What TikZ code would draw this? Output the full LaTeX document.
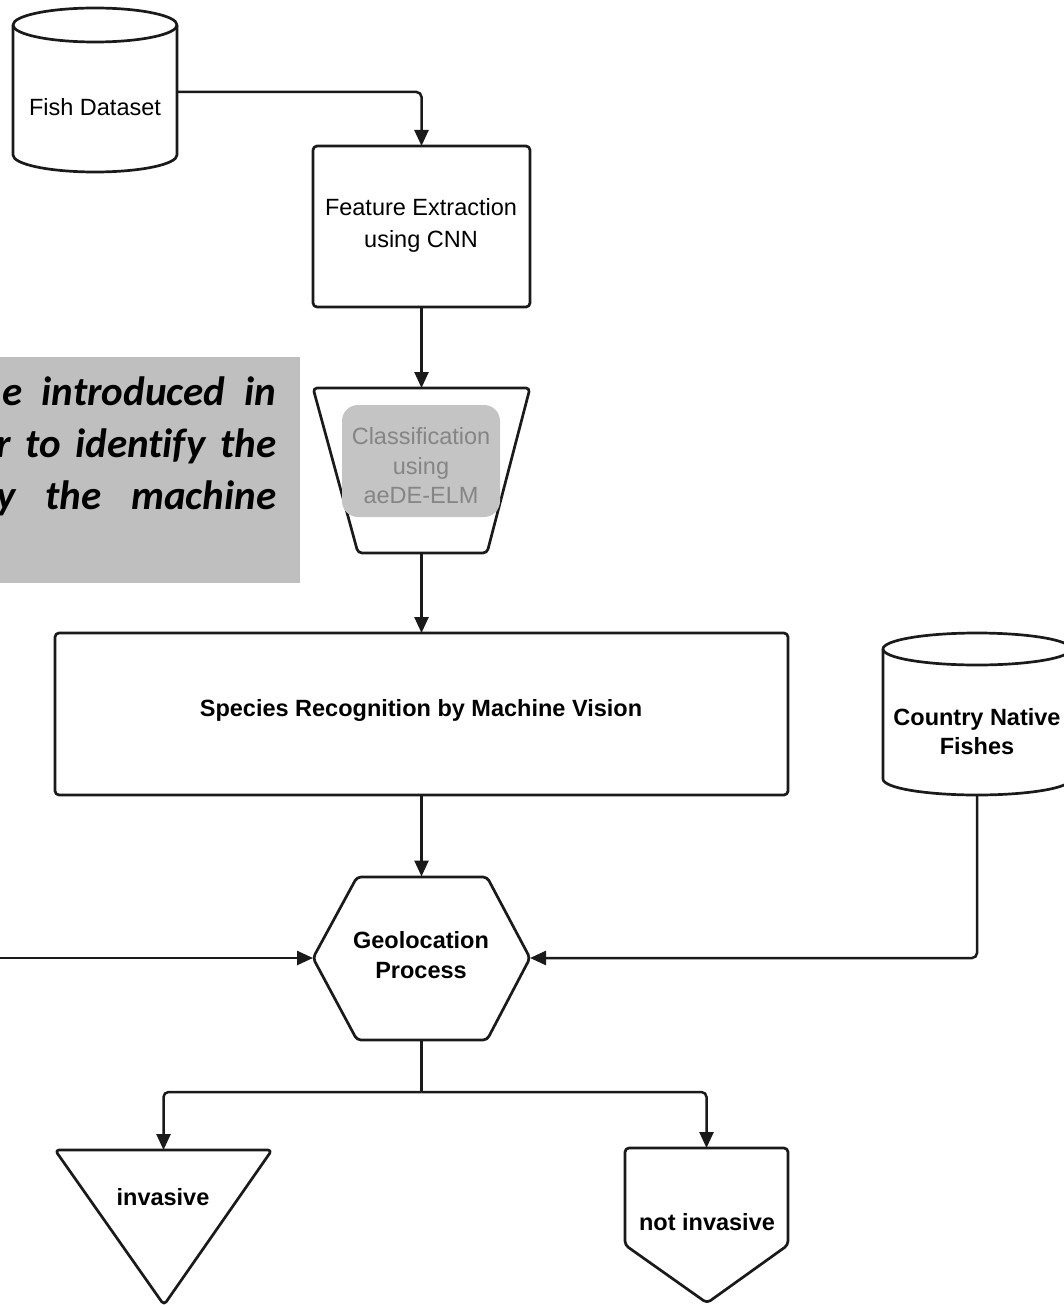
\documentclass[tikz,border=0pt]{standalone}
\usepackage{fontspec}
\setmainfont{Liberation Sans}
\newfontfamily\calib[Ligatures=CommonOff]{Carlito}
\usetikzlibrary{arrows.meta}
\definecolor{ink}{HTML}{1A1A1A}
\definecolor{panel}{HTML}{BFBFBF}
\definecolor{clsfill}{HTML}{C4C4C4}
\definecolor{clstext}{HTML}{858585}
\begin{document}
\begin{tikzpicture}[x=1pt,y=-1pt,
  outline/.style={draw=ink, line width=2.7pt, line join=round, rounded corners=4pt},
  conn/.style={draw=ink, line width=2.5pt, rounded corners=5pt},
  arr/.style={conn, -{Triangle[length=16pt,width=14pt]}},
  frame/.style={draw=none, inner sep=0pt, outer sep=0pt},
  lbl/.style={inner sep=0pt, align=center, font=\fontsize{23.5}{30}\selectfont},
  blbl/.style={inner sep=0pt, align=center, font=\fontsize{23.5}{30}\selectfont\bfseries},
  ptxt/.style={inner sep=0pt, anchor=base west, font=\calib\bfseries\itshape\fontsize{41}{52}\selectfont},
]
\clip (0,0) rectangle (1064,1305);

% ---- grey text panel (cut off at the left) ----
\fill[panel] (0,357) rectangle (300,583);
\node[ptxt] (pl1) at (2,405) {\makebox[274pt][s]{e introduced in}};
\node[ptxt] (pl2) at (-4,457) {\makebox[280pt][s]{r to ident\kern0pt ify the}};
\node[ptxt] (pl3) at (-4,509) {\makebox[280pt][s]{y the machine}};

% ---- frames used by the connectors ----
\node[frame, minimum width=164pt, minimum height=164pt] (fish) at (95,90) {};
\node[frame, minimum width=217pt, minimum height=161pt] (feat) at (421.5,226.5) {};
\node[frame, minimum width=217pt, minimum height=165pt] (cls) at (421.5,470.5) {};
\node[frame, minimum width=733pt, minimum height=162pt] (spec) at (421.5,714) {};
\node[frame, minimum width=188pt, minimum height=162pt] (country) at (977,714) {};
\node[frame, minimum width=217pt, minimum height=163pt] (geo) at (421.5,958) {};
\node[frame, minimum width=217pt, minimum height=155pt] (inv) at (163.5,1227.5) {};
\node[frame, minimum width=163pt, minimum height=155pt] (nin) at (706.5,1225.5) {};
\coordinate (leftin) at (0,958);
\coordinate (br) at (421.5,1092);

% ---- shapes ----
% Fish Dataset cylinder
\draw[outline, rounded corners=0pt] (95,25) ellipse [x radius=82pt, y radius=17pt];
\draw[outline, rounded corners=0pt] (13,25) -- (13,155) arc[start angle=180, end angle=360, x radius=82pt, y radius=17pt] -- (177,25);
% Feature extraction box
\draw[outline] (313,146) rectangle (530,307);
% Classification trapezoid
\draw[outline] (313,388) -- (530,388) -- (487,553) -- (358,553) -- cycle;
\fill[clsfill, rounded corners=16pt] (342,405) rectangle (500,517);
% Species box
\draw[outline] (55,633) rectangle (788,795);
% Country Native Fishes cylinder
\draw[outline, rounded corners=0pt] (977,649) ellipse [x radius=94pt, y radius=16pt];
\draw[outline, rounded corners=0pt] (883,649) -- (883,779) arc[start angle=180, end angle=360, x radius=94pt, y radius=16pt] -- (1071,649);
% Geolocation hexagon
\draw[outline] (313,958) -- (357,877) -- (487,877) -- (530,958) -- (487,1040) -- (357,1040) -- cycle;
% invasive triangle
\draw[outline] (55,1150) -- (272,1150) -- (164,1305) -- cycle;
% not invasive pentagon
\draw[outline] (625,1148) -- (788,1148) -- (788,1245) -- (707,1303) -- (625,1245) -- cycle;

% ---- texts ----
\node[lbl] (fishtxt) at (95,107) {Fish Dataset};
\node[lbl, font=\fontsize{23.5}{32}\selectfont] (feattxt) at (421,225) {Feature Extraction\\using CNN};
\node[lbl, text=clstext, font=\fontsize{23.5}{29.5}\selectfont] (clstxt) at (421,466) {Classification\\using\\aeDE-ELM};
\node[blbl] (spectxt) at (421,710) {Species Recognition by Machine Vision};
\node[blbl, font=\fontsize{23.5}{29}\selectfont\bfseries] (countrytxt) at (977,732) {Country Native\\Fishes};
\node[blbl] (geotxt) at (421,955) {Geolocation\\Process};
\node[blbl] (invtxt) at (163,1197) {invasive};
\node[blbl] (nintxt) at (707,1222) {not invasive};

% ---- connectors ----
\draw[arr] ([yshift=-2pt]fish.east) -| (feat.north);
\draw[arr] (feat.south) -- (cls.north);
\draw[arr] (cls.south) -- (spec.north);
\draw[arr] (spec.south) -- (geo.north);
\draw[arr] (country.south) |- (geo.east);
\draw[arr] (leftin) -- (geo.west);
\draw[conn] (geo.south) -- (br);
\draw[arr] (br) -| (inv.north);
\draw[arr] (br) -| (nin.north);
\end{tikzpicture}
\end{document}
